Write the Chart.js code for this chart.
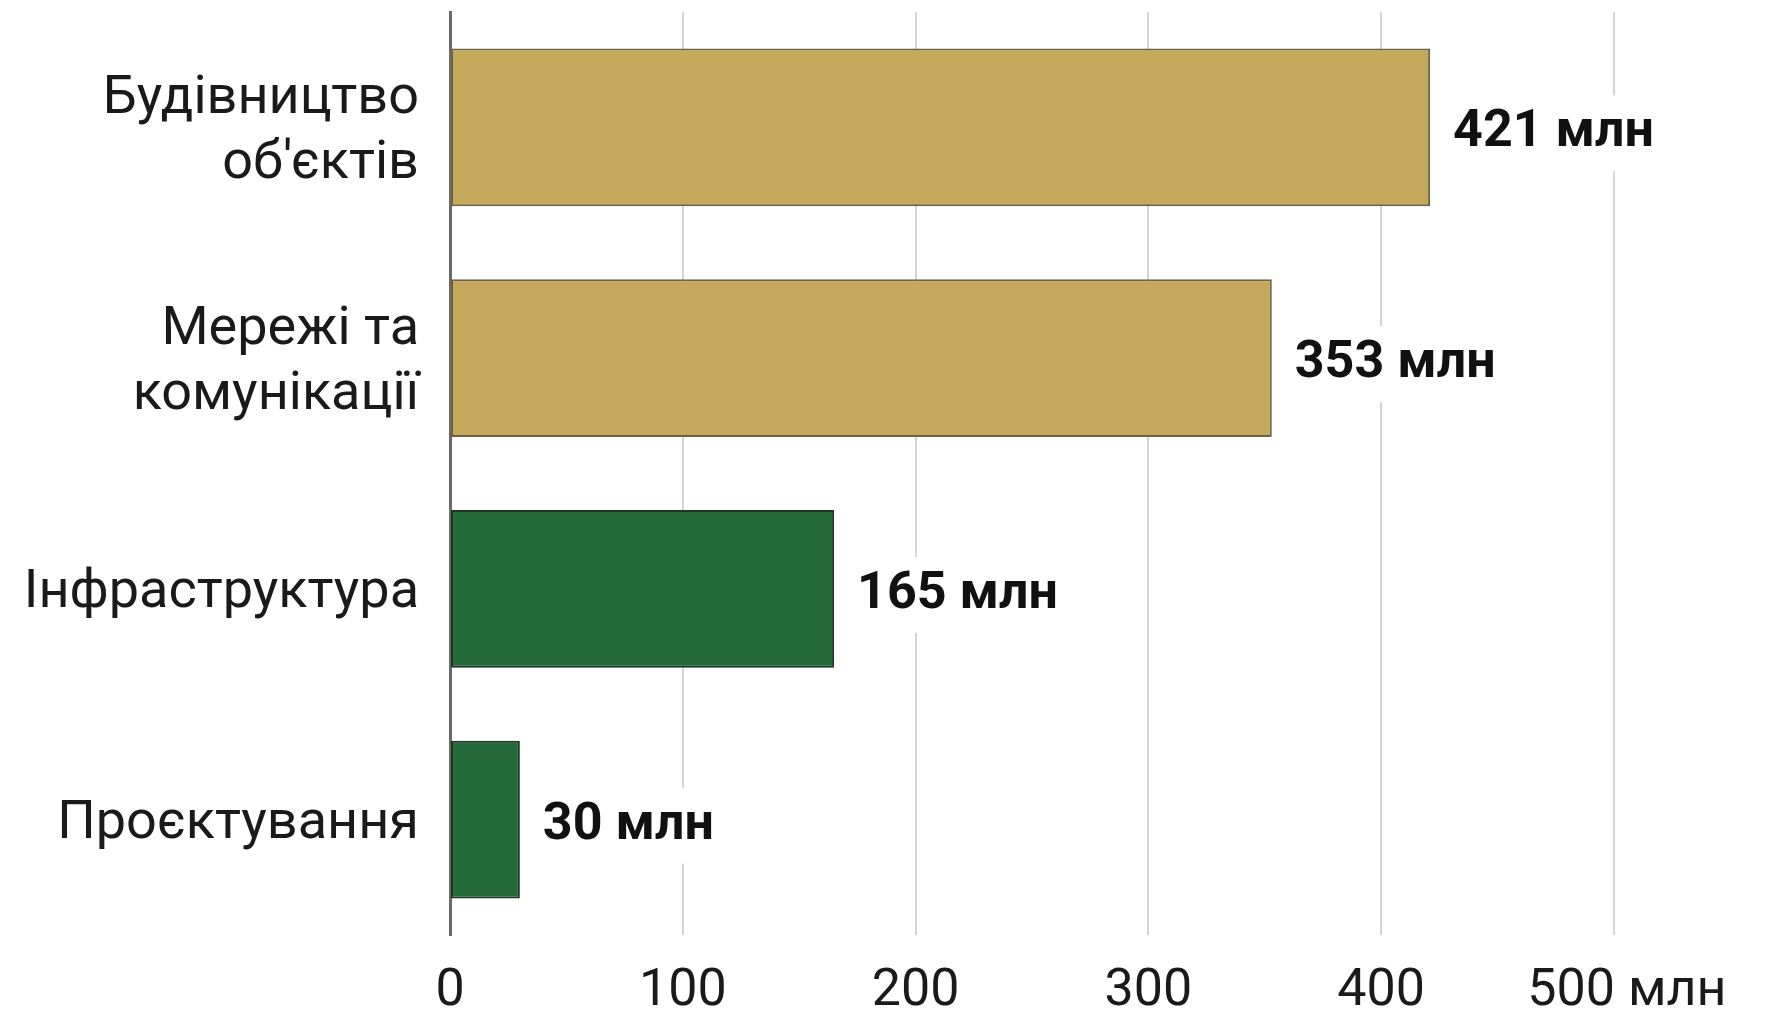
<!DOCTYPE html>
<html>
<head>
<meta charset="utf-8">
<script src="https://cdn.jsdelivr.net/npm/chart.js@4.4.1/dist/chart.umd.min.js"></script>
<style>
  html, body { margin: 0; padding: 0; background: #fff; }
  #wrap { width: 1765px; height: 1013px; }
</style>
</head>
<body>
<div id="wrap"><canvas id="barChart"></canvas></div>
<script>
  // categories (multi-line labels) and values, млн
  const categories = [
    ["Будівництво", "об'єктів"],
    ["Мережі та", "комунікації"],
    "Інфраструктура",
    "Проєктування"
  ];
  const values = [421, 353, 165, 30];
  const valueLabels = ["421 млн", "353 млн", "165 млн", "30 млн"];
  const xTicks = [0, 100, 200, 300, 400, 500];
  const fills = ["#c4a95b", "#c4a95b", "#236a38", "#236a38"];
  const borders = ["#6f6244", "#6f6244", "#1c3622", "#1c3622"];

  // value labels with a white box that cuts the grid lines
  const valueLabelPlugin = {
    id: "valueLabels",
    afterDatasetsDraw(chart) {
      const ctx = chart.ctx;
      const meta = chart.getDatasetMeta(0);
      ctx.save();
      ctx.font = "bold 52px Roboto";
      ctx.textBaseline = "middle";
      ctx.textAlign = "left";
      meta.data.forEach((bar, i) => {
        const text = valueLabels[i];
        const w = ctx.measureText(text).width;
        const x = bar.x + 23;
        const y = bar.y + 6;
        ctx.fillStyle = "#fff";
        ctx.fillRect(x - 8, y - 38, w + 16, 76);
        ctx.fillStyle = "#111";
        ctx.fillText(text, x, y);
      });
      ctx.restore();
    }
  };

  new Chart(document.getElementById("barChart"), {
    type: "bar",
    data: {
      labels: categories,
      datasets: [{
        data: values,
        backgroundColor: fills,
        borderColor: borders,
        borderWidth: 2,
        borderSkipped: false,
        barPercentage: 0.684,
        categoryPercentage: 1
      }]
    },
    options: {
      indexAxis: "y",
      responsive: true,
      maintainAspectRatio: false,
      animation: false,
      layout: { padding: { top: 12, right: 151, left: 0, bottom: 0 } },
      plugins: { legend: { display: false }, tooltip: { enabled: false } },
      scales: {
        x: {
          min: 0,
          max: 500,
          afterBuildTicks: (scale) => { scale.ticks = xTicks.map(v => ({ value: v })); },
          afterFit: (scale) => { scale.height = 78; },
          grid: { color: "#d4d4d4", lineWidth: 2, drawTicks: false },
          border: { display: false },
          ticks: {
            padding: 26,
            color: "#1a1a1a",
            font: { family: "Roboto", size: 52 },
            callback: (v) => v === 500 ? "  500 млн" : String(v)
          }
        },
        y: {
          afterFit: (scale) => {
            scale.width = 450;
            scale.paddingTop = 0;
            scale.paddingBottom = 0;
          },
          grid: { display: false, drawTicks: false },
          border: { display: true, color: "#6a6a6a", width: 3 },
          ticks: {
            padding: 31,
            labelOffset: 5,
            color: "#1a1a1a",
            font: { family: "Roboto", size: 54, lineHeight: 1.2 }
          }
        }
      }
    },
    plugins: [valueLabelPlugin]
  });
</script>
</body>
</html>
